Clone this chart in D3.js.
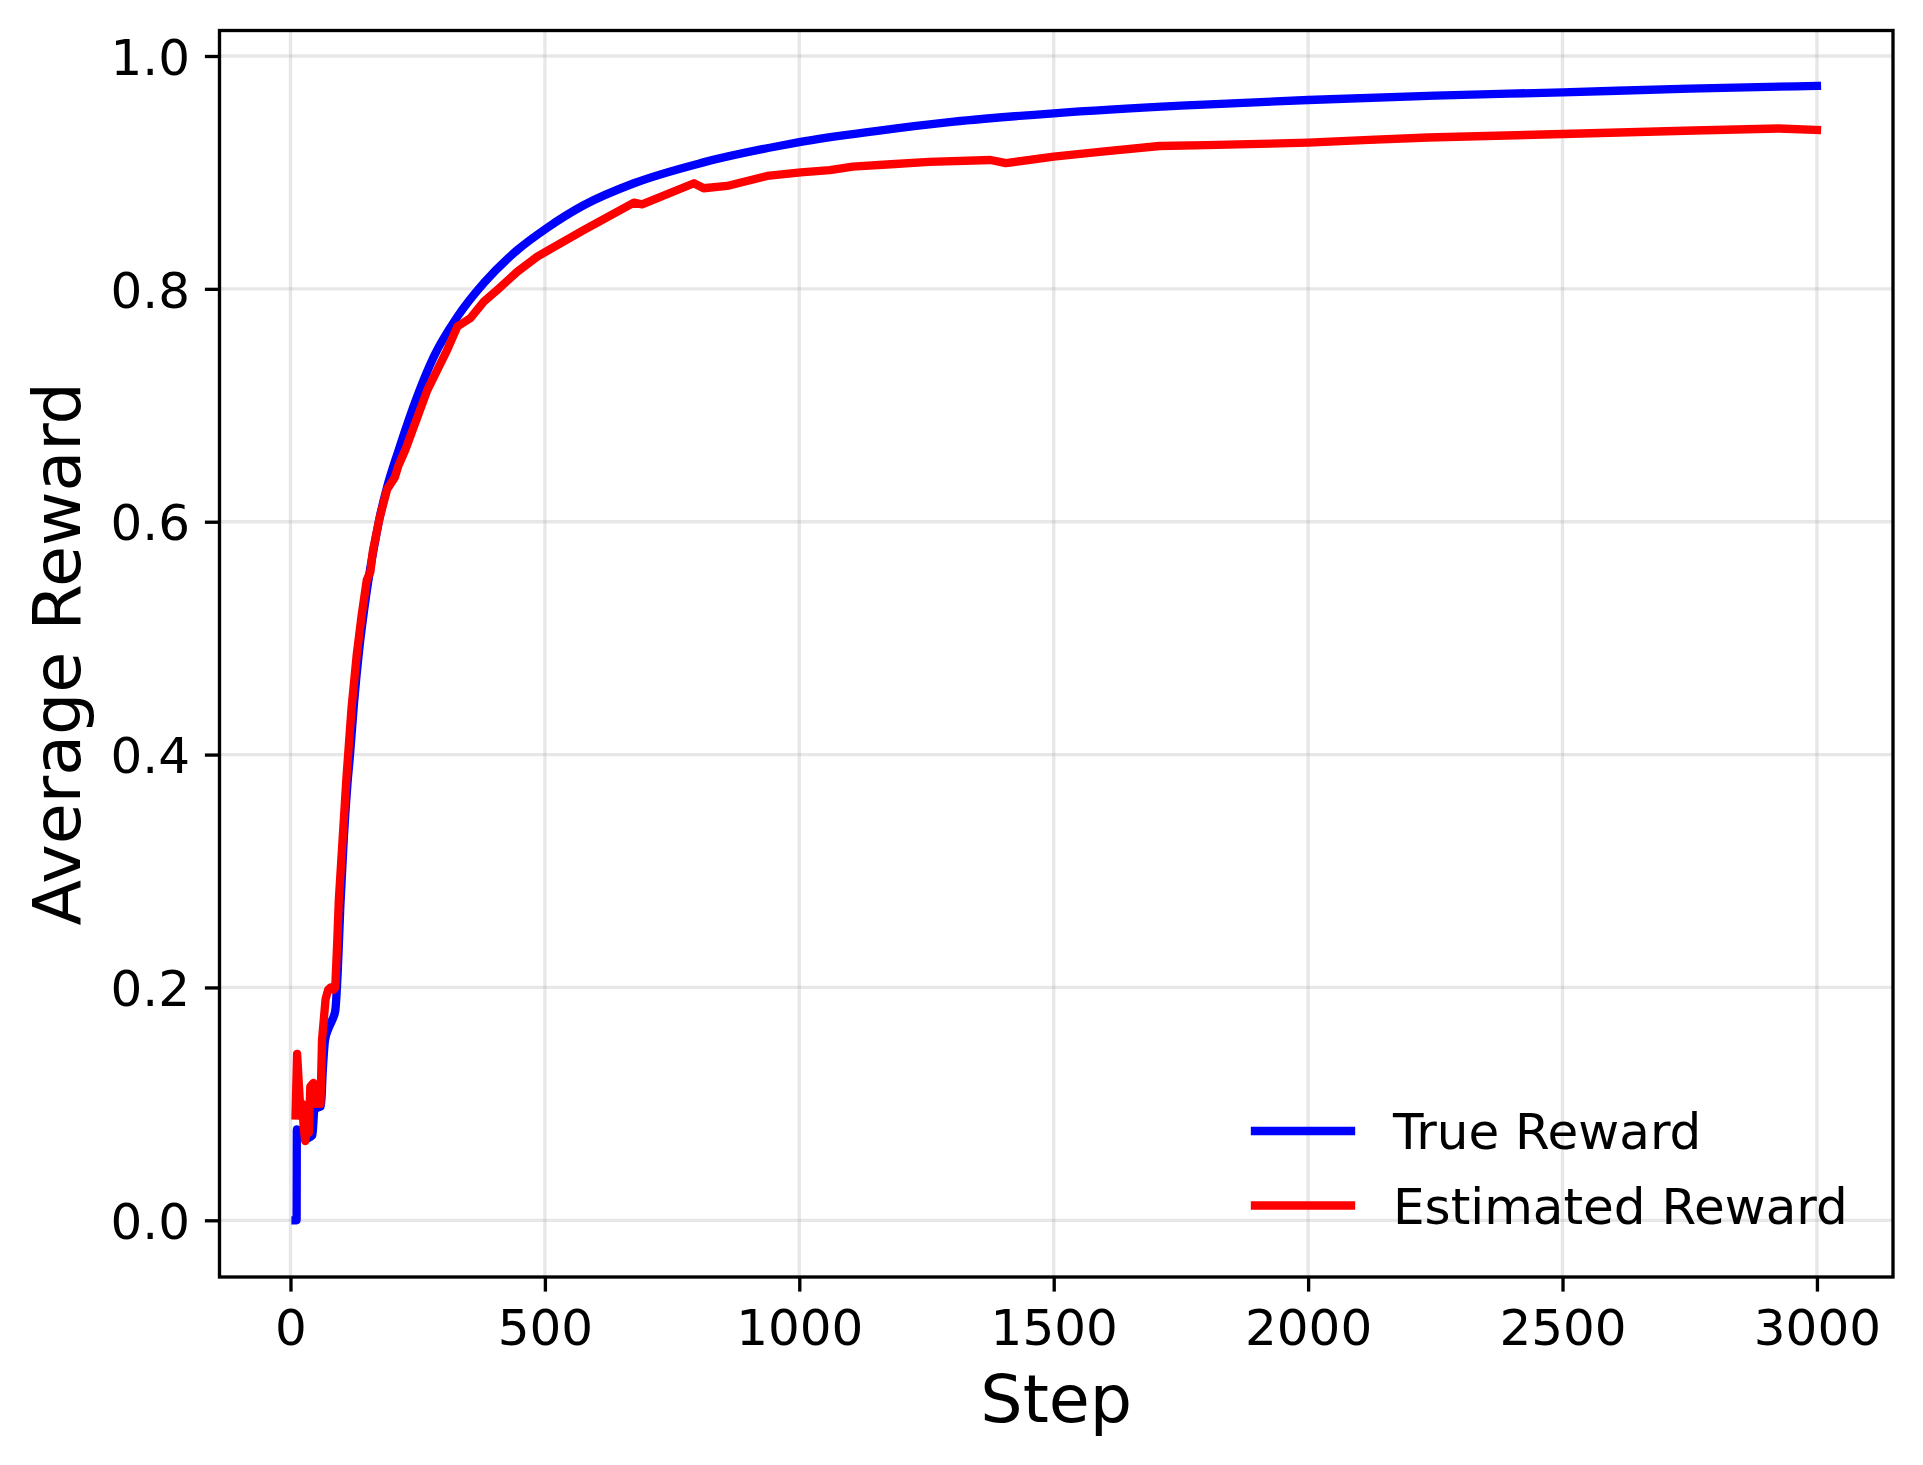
<!DOCTYPE html>
<html>
<head>
<meta charset="utf-8">
<script src="https://cdn.jsdelivr.net/npm/d3@7"></script>
<style>
  html, body { margin: 0; padding: 0; background: #ffffff; }
  svg { display: block; font-family: "DejaVu Sans", sans-serif; }
</style>
</head>
<body>
<svg id="chart" width="1923" height="1465"></svg>
<script>
// ---- data ----
const trueSteps = [10, 12, 12.5, 20, 30, 40, 43, 47, 55, 60, 63, 68, 75, 82, 88, 93, 98, 105, 112, 117, 125, 135, 145, 155, 165, 175, 190, 213, 249, 282, 328, 380, 446, 503, 577, 675, 806, 957, 1000, 1150, 1304, 1500, 1750, 2000, 2250, 2500, 2750, 3000];
const trueValues = [0, 0, 0.078, 0.075, 0.070, 0.072, 0.073, 0.095, 0.097, 0.098, 0.125, 0.155, 0.165, 0.172, 0.180, 0.215, 0.270, 0.330, 0.375, 0.400, 0.445, 0.490, 0.525, 0.555, 0.580, 0.603, 0.630, 0.662, 0.7075, 0.742, 0.776, 0.805, 0.8334, 0.852, 0.872, 0.8907, 0.908, 0.9225, 0.926, 0.9355, 0.9436, 0.9508, 0.9574, 0.9622, 0.966, 0.9688, 0.972, 0.9743];

const estSteps = [10, 13, 16, 20, 23, 26, 29, 33, 36, 39, 45, 50, 55, 59, 62, 66, 69, 74, 79, 85, 88, 92, 95, 100, 110, 120, 130, 140, 150, 157, 162, 175, 190, 205, 212, 226, 269, 308, 328, 340, 354, 380, 410, 446, 485, 508, 577, 675, 691, 793, 812, 858, 937, 1003, 1060, 1105, 1180, 1255, 1376, 1406, 1500, 1600, 1708, 1800, 1905, 2000, 2120, 2236, 2370, 2500, 2630, 2759, 2925, 3000];
const estValues = [0.090, 0.143, 0.120, 0.090, 0.100, 0.080, 0.068, 0.085, 0.075, 0.115, 0.118, 0.100, 0.115, 0.100, 0.155, 0.175, 0.190, 0.198, 0.200, 0.198, 0.200, 0.240, 0.275, 0.310, 0.380, 0.440, 0.485, 0.520, 0.550, 0.557, 0.575, 0.603, 0.628, 0.638, 0.648, 0.662, 0.713, 0.7476, 0.7676, 0.771, 0.775, 0.789, 0.8005, 0.8148, 0.8277, 0.8334, 0.8506, 0.874, 0.8726, 0.8907, 0.8864, 0.8884, 0.897, 0.900, 0.902, 0.905, 0.907, 0.909, 0.9107, 0.908, 0.9136, 0.918, 0.9227, 0.9235, 0.9245, 0.9256, 0.928, 0.930, 0.9315, 0.933, 0.9345, 0.936, 0.9377, 0.9365];

const xTicks = [0, 500, 1000, 1500, 2000, 2500, 3000];
const yTicks = [0.0, 0.2, 0.4, 0.6, 0.8, 1.0];
const seriesNames = ["True Reward", "Estimated Reward"];
const seriesColors = ["#0000ff", "#ff0000"];
const xLabel = "Step";
const yLabel = "Average Reward";

// ---- layout ----
const L = 219.5, R = 1893, T = 30.5, B = 1277;
const lw = 8.33, tickLen = 14.6, fs = 50;

const svg = d3.select("#chart");
const x = d3.scaleLinear().domain([-139.5, 3149.5]).range([L, R]);
const y = d3.scaleLinear().domain([-0.0487, 1.0219]).range([B, T]);

// grid
const grid = svg.append("g");
grid.selectAll("line.gx").data(xTicks).enter().append("line")
  .attr("x1", d => x(d)).attr("x2", d => x(d)).attr("y1", T).attr("y2", B)
  .attr("stroke", "#b0b0b0").attr("stroke-opacity", 0.3).attr("stroke-width", 3.33);
grid.selectAll("line.gy").data(yTicks).enter().append("line")
  .attr("x1", L).attr("x2", R).attr("y1", d => y(d)).attr("y2", d => y(d))
  .attr("stroke", "#b0b0b0").attr("stroke-opacity", 0.3).attr("stroke-width", 3.33);

// lines
const curves = [d3.curveMonotoneX, d3.curveLinear];
const series = [
  d3.zip(trueSteps, trueValues),
  d3.zip(estSteps, estValues)
];
svg.append("clipPath").attr("id", "clip").append("rect")
  .attr("x", L).attr("y", T).attr("width", R - L).attr("height", B - T);
series.forEach((s, i) => {
  const line = d3.line().x(d => x(d[0])).y(d => y(d[1])).curve(curves[i]);
  svg.append("path").datum(s).attr("d", line)
    .attr("fill", "none").attr("stroke", seriesColors[i])
    .attr("stroke-width", lw).attr("stroke-linejoin", "round").attr("stroke-linecap", "square")
    .attr("clip-path", "url(#clip)");
});

// spines
svg.append("rect").attr("x", L).attr("y", T).attr("width", R - L).attr("height", B - T)
  .attr("fill", "none").attr("stroke", "#000").attr("stroke-width", 3.33);

// axes
const xAxis = d3.axisBottom(x).tickValues(xTicks).tickFormat(d3.format("d"))
  .tickSizeInner(tickLen).tickSizeOuter(0).tickPadding(17.4);
const gx = svg.append("g").attr("transform", `translate(0,${B})`).call(xAxis);
gx.select(".domain").remove();
gx.selectAll(".tick line").attr("stroke", "#000").attr("stroke-width", 3.33);
gx.selectAll(".tick text").attr("font-size", fs).attr("font-family", "DejaVu Sans").attr("fill", "#000");

const yAxis = d3.axisLeft(y).tickValues(yTicks).tickFormat(d3.format(".1f"))
  .tickSizeInner(tickLen).tickSizeOuter(0).tickPadding(14.9);
const gy = svg.append("g").attr("transform", `translate(${L},0)`).call(yAxis);
gy.select(".domain").remove();
gy.selectAll(".tick line").attr("stroke", "#000").attr("stroke-width", 3.33);
gy.selectAll(".tick text").attr("font-size", fs).attr("font-family", "DejaVu Sans").attr("fill", "#000")
  .attr("dy", "0.364em");

// axis labels
svg.append("text").attr("x", (L + R) / 2).attr("y", 1421.7)
  .attr("text-anchor", "middle").attr("font-size", 66.7).attr("fill", "#000").text(xLabel);
svg.append("text").attr("transform", `translate(80,${(T + B) / 2}) rotate(-90)`)
  .attr("text-anchor", "middle").attr("font-size", 66.7).attr("fill", "#000").text(yLabel);

// legend
const legY = [1131, 1205.5];
seriesNames.forEach((name, i) => {
  svg.append("line").attr("x1", 1255).attr("x2", 1351).attr("y1", legY[i]).attr("y2", legY[i])
    .attr("stroke", seriesColors[i]).attr("stroke-width", lw).attr("stroke-linecap", "square");
  svg.append("text").attr("x", 1393).attr("y", legY[i]).attr("dy", "0.364em")
    .attr("font-size", fs).attr("fill", "#000").text(name);
});
</script>
</body>
</html>
